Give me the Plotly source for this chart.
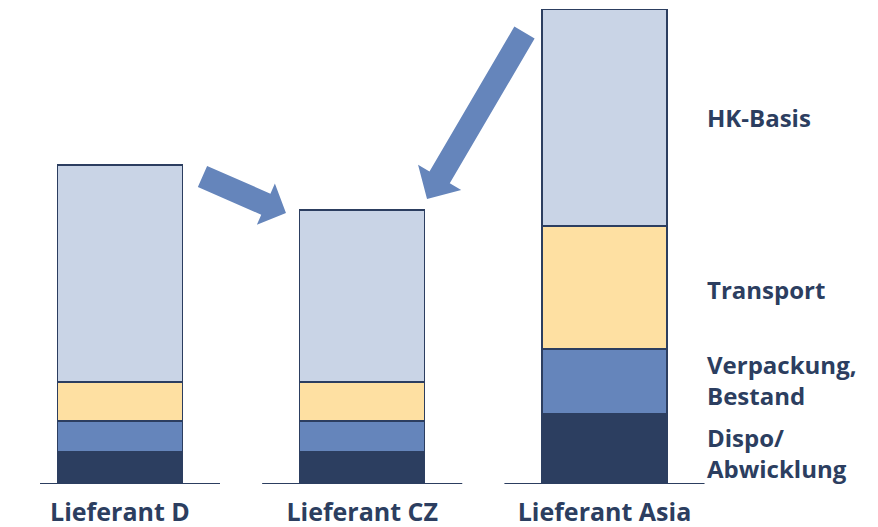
import plotly.graph_objects as go
import math

categories = ["Lieferant D", "Lieferant CZ", "Lieferant Asia"]
segments = ["Dispo/<br>Abwicklung", "Verpackung,<br>Bestand", "Transport", "HK-Basis"]
dispo = [3.2, 3.2, 7.0]
verpackung = [3.1, 3.1, 6.5]
transport = [3.9, 3.9, 12.3]
hk_basis = [21.7, 17.2, 21.7]

colors = ["#2c3e60", "#6585bb", "#fee0a2", "#c9d4e6"]
navy = "#2c3e60"
W, H = 878, 527
ml, mr, mt, mb = 40, 173, 9, 43
xmin, xmax = -0.33, 2.415

fig = go.Figure()
for name, vals, col in zip(segments, [dispo, verpackung, transport, hk_basis], colors):
    fig.add_trace(go.Bar(x=categories, y=vals, name=name, marker=dict(color=col, line=dict(color=navy, width=1.5)),
                         width=0.516, showlegend=False, hoverinfo="skip"))

# baseline segments under each bar
for i, _ in enumerate(categories):
    fig.add_shape(type="line", xref="x", yref="y", x0=max(xmin, i - 0.413), x1=min(xmax, i + 0.413), y0=0, y1=0,
                  line=dict(color=navy, width=2), layer="above")

pw, ph = W - ml - mr, H - mt - mb

def px2paper(x, y):
    return (x - ml) / pw, (H - mb - y) / ph

def arrow_path(tail, tip, shaft_w, head_w, head_len):
    dx, dy = tip[0] - tail[0], tip[1] - tail[1]
    L = math.hypot(dx, dy)
    ux, uy = dx / L, dy / L
    nx, ny = -uy, ux
    bx, by = tip[0] - ux * head_len, tip[1] - uy * head_len
    pts = [
        (tail[0] + nx * shaft_w / 2, tail[1] + ny * shaft_w / 2),
        (bx + nx * shaft_w / 2, by + ny * shaft_w / 2),
        (bx + nx * head_w / 2, by + ny * head_w / 2),
        tip,
        (bx - nx * head_w / 2, by - ny * head_w / 2),
        (bx - nx * shaft_w / 2, by - ny * shaft_w / 2),
        (tail[0] - nx * shaft_w / 2, tail[1] - ny * shaft_w / 2),
    ]
    pp = [px2paper(*p) for p in pts]
    return "M " + " L ".join(f"{a:.4f},{b:.4f}" for a, b in pp) + " Z"

arrow_col = "#6585bb"
fig.add_shape(type="path", xref="paper", yref="paper", path=arrow_path((202.5, 176.5), (286, 213), 23, 45, 22),
              fillcolor=arrow_col, line=dict(width=0))
fig.add_shape(type="path", xref="paper", yref="paper", path=arrow_path((524.5, 32.5), (427, 199), 23.5, 50, 25),
              fillcolor=arrow_col, line=dict(width=0))

label_y_px = [453, 380, 289, 118]
for name, ypx in zip(segments, label_y_px):
    xp, yp = px2paper(705, ypx)
    fig.add_annotation(text=name, xref="paper", yref="paper", x=xp, y=yp, xanchor="left", yanchor="middle",
                       showarrow=False, align="left",
                       font=dict(family="Open Sans", size=24, color=navy, weight="bold"))

fig.update_layout(
    barmode="stack", width=W, height=H, margin=dict(l=ml, r=mr, t=mt, b=mb, autoexpand=False),
    paper_bgcolor="white", plot_bgcolor="white",
    xaxis=dict(range=[xmin, xmax], showline=False, showgrid=False, zeroline=False,
               ticks="", ticklabelstandoff=11, automargin=False,
               tickfont=dict(family="Open Sans", size=25, color=navy, weight="bold")),
    yaxis=dict(range=[0, 47.5], visible=False, automargin=False),
)
fig.write_html("out.html")
